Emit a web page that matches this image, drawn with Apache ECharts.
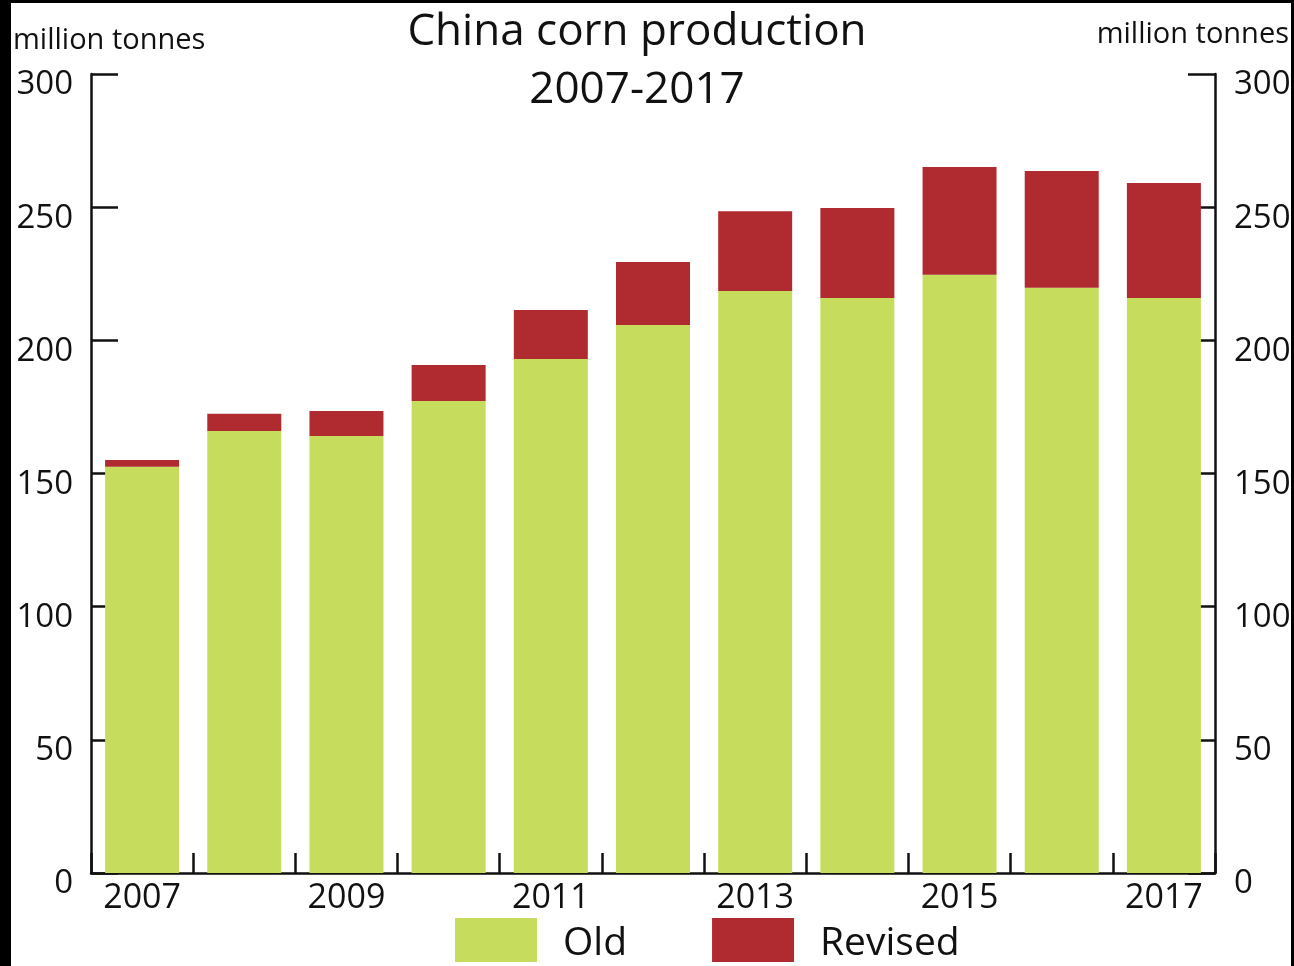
<!DOCTYPE html>
<html>
<head>
<meta charset="utf-8">
<script src="https://cdn.jsdelivr.net/npm/echarts@6/dist/echarts.min.js"></script>
<style>
html,body{margin:0;padding:0;width:1294px;height:966px;background:#000;overflow:hidden;}
#chart{position:absolute;left:11px;top:3px;width:1280px;height:963px;background:#fff;}
</style>
</head>
<body>
<div id="chart"></div>
<script>
const categories = ['2007','2008','2009','2010','2011','2012','2013','2014','2015','2016','2017'];
const oldValues = [152.5, 166.0, 164.1, 177.2, 193.0, 205.8, 218.5, 215.9, 224.6, 219.7, 215.9];
const revisedExtra = [2.6, 6.4, 9.4, 13.5, 18.4, 23.6, 30.0, 33.8, 40.5, 43.9, 43.2];
const yTicks = [0, 50, 100, 150, 200, 250, 300];
const titleLines = ['China corn production', '2007-2017'];
const unitLabel = 'million tonnes';

const FONT = '"Open Sans", sans-serif';
const chart = echarts.init(document.getElementById('chart'), null, {renderer: 'canvas'});

const yAxisCommon = {
  type: 'value', min: yTicks[0], max: yTicks[yTicks.length - 1], interval: 50,
  axisLine: {show: true, lineStyle: {color: '#111', width: 2.5}},
  axisTick: {show: true, inside: true, length: 27, lineStyle: {color: '#111', width: 2.5}},
  splitLine: {show: false},
  axisLabel: {color: '#111', fontSize: 33, fontFamily: FONT, margin: 18, verticalAlign: 'top', lineHeight: 22}
};

chart.setOption({
  animation: false,
  grid: {left: 80, right: 76, top: 71, bottom: 93, containLabel: false, outerBoundsMode: 'none'},
  graphic: [
    {type: 'text', x: 626, y: 29, style: {text: titleLines[0], font: '44px ' + FONT, fill: '#111', textAlign: 'center', textVerticalAlign: 'middle'}},
    {type: 'text', x: 626, y: 87, style: {text: titleLines[1], font: '44px ' + FONT, fill: '#111', textAlign: 'center', textVerticalAlign: 'middle'}},
    {type: 'text', x: 2, y: 38, style: {text: unitLabel, font: '29px ' + FONT, fill: '#111', textAlign: 'left', textVerticalAlign: 'middle'}},
    {type: 'text', x: 1278, y: 32, style: {text: unitLabel, font: '29px ' + FONT, fill: '#111', textAlign: 'right', textVerticalAlign: 'middle'}}
  ],
  legend: {
    left: 444, top: 915, padding: 0, itemWidth: 82, itemHeight: 44, itemGap: 85, icon: 'rect',
    formatter: '{a|{name}}',
    textStyle: {fontSize: 39, fontFamily: FONT, color: '#111',
      rich: {a: {fontSize: 39, fontFamily: FONT, color: '#111', padding: [8, 0, 0, 21]}}},
    data: ['Old', 'Revised']
  },
  xAxis: {
    type: 'category', data: categories, boundaryGap: true,
    axisLine: {show: true, lineStyle: {color: '#111', width: 2.5}},
    axisTick: {show: true, inside: true, length: 20, interval: 0, lineStyle: {color: '#111', width: 2.5}},
    axisLabel: {interval: 1, color: '#111', fontSize: 34, fontFamily: FONT, margin: 8}
  },
  yAxis: [
    Object.assign({}, yAxisCommon, {position: 'left'}),
    Object.assign({}, yAxisCommon, {position: 'right', axisLabel: Object.assign({}, yAxisCommon.axisLabel, {margin: 19})})
  ],
  series: [
    {name: 'Old', type: 'bar', stack: 'total', data: oldValues, barWidth: 74, itemStyle: {color: '#c6dc5c'}, z: 3},
    {name: 'Revised', type: 'bar', stack: 'total', data: revisedExtra, barWidth: 74, itemStyle: {color: '#b02b2f'}, z: 3}
  ]
});
</script>
</body>
</html>
